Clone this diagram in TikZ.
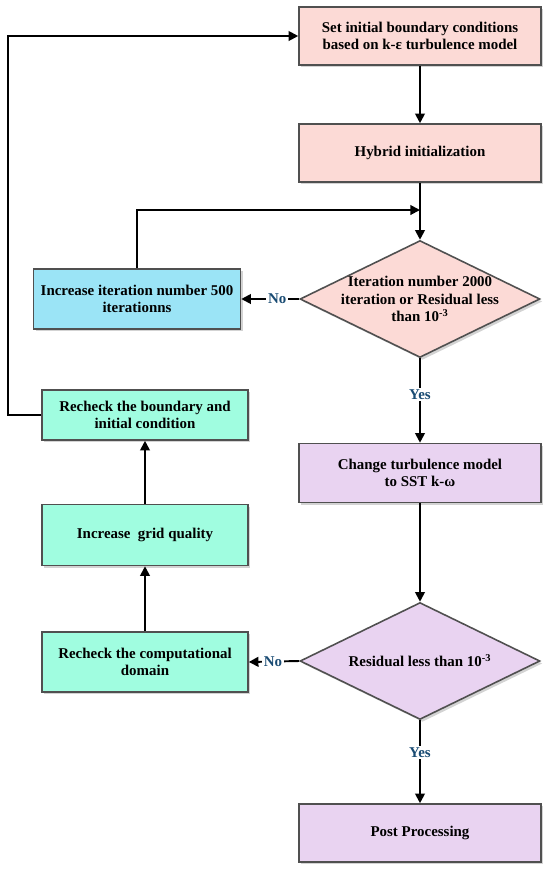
\documentclass[tikz,border=0pt]{standalone}
\usepackage{fontspec}
\setmainfont{Liberation Serif}
\usepackage{xcolor}
\usetikzlibrary{shapes.geometric,arrows.meta,shadows}

\definecolor{pinkfill}{RGB}{252,218,214}
\definecolor{bluefill}{RGB}{155,228,246}
\definecolor{greenfill}{RGB}{160,253,224}
\definecolor{lilacfill}{RGB}{233,211,241}
\definecolor{edgegray}{RGB}{80,80,80}
\definecolor{replyblue}{RGB}{25,75,115}

\begin{document}
\begin{tikzpicture}[
  x=0.02cm, y=-0.02cm,
  line width=1.1pt,
  >={Triangle[length=5.5pt,width=5.5pt]},
  every node/.append style={
    align=center,
    font=\fontsize{8.5}{10}\selectfont\bfseries
  },
  box node/.style={
    draw=edgegray, line width=0.9pt,
    drop shadow={shadow xshift=1.4pt, shadow yshift=-1.4pt, opacity=0.35},
    minimum width=4.84cm, minimum height=1.16cm, inner sep=2pt
  },
  side node/.style={box node, minimum width=4.14cm, minimum height=1.2cm},
  decision node/.style={
    diamond, aspect=2.05, draw=edgegray, line width=0.9pt,
    drop shadow={shadow xshift=1.4pt, shadow yshift=-1.4pt, opacity=0.35},
    minimum width=4.8cm, minimum height=2.34cm, inner sep=-4pt
  },
  reply node/.style={fill=white, text=replyblue, inner sep=1pt}
]
\useasboundingbox (0,0) rectangle (550,870);

% main column
\node[box node, fill=pinkfill] (inicio) at (420,36) {Set initial boundary conditions\\ based on k-ε turbulence model};
\node[box node, fill=pinkfill] (hibrida) at (420,153) {Hybrid initialization};
\node[decision node, fill=pinkfill] (iteracion) at (420,299) {Iteration number 2000\\ iteration or Residual less\\ than 10\textsuperscript{-3}};
\node[box node, fill=lilacfill, minimum height=1.18cm] (turbulencia) at (420,473) {Change turbulence model\\ to SST k-ω};
\node[decision node, fill=lilacfill] (residuo) at (420,661) {Residual less than 10\textsuperscript{-3}};
\node[box node, fill=lilacfill] (post) at (420,833) {Post Processing};

% side column
\node[side node, fill=bluefill] (aumento) at (137,299) {Increase iteration number 500\\ iterationns};
\node[side node, fill=greenfill, minimum width=4.12cm, minimum height=1cm] (frontera) at (145,415) {Recheck the boundary and\\ initial condition};
\node[side node, fill=greenfill, minimum width=4.12cm, minimum height=1.22cm] (malla) at (145,535) {Increase\ \ grid quality};
\node[side node, fill=greenfill, minimum width=4.12cm] (dominio) at (145,662) {Recheck the computational\\ domain};

\coordinate (union) at (420,210);

\draw[->] (inicio) -- (hibrida);
\draw[->] (hibrida) -- (iteracion);
\draw[->] (iteracion.west) -- node[reply node, pos=0.38] {No} (aumento.east);
\draw[->] (aumento.north) |- (union);
\draw[->] (iteracion.south) -- node[reply node, pos=0.43] {Yes} (turbulencia.north);
\draw[->] (turbulencia) -- (residuo);
\draw[->] (residuo.west) -- node[reply node, pos=0.52] {No} (dominio.east);
\draw[->] (residuo.south) -- node[reply node, pos=0.39] {Yes} (post.north);
\draw[->] (dominio) -- (malla);
\draw[->] (malla) -- (frontera);
\draw[->] (frontera.west) -- ++(-33,0) |- (inicio.west);
\end{tikzpicture}
\end{document}
